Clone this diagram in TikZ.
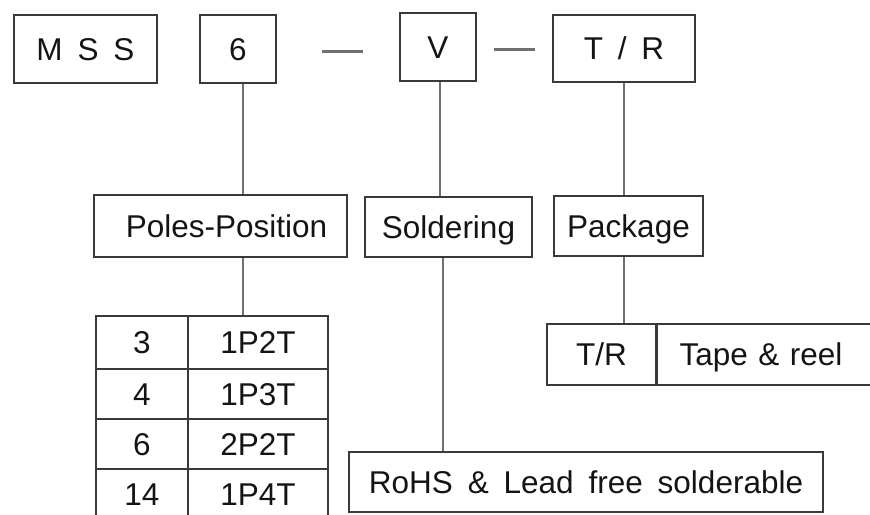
\documentclass[tikz,border=0pt]{standalone}
\usepackage{fontspec}
\setmainfont{Liberation Sans}[WordSpace=1.7]
\definecolor{boxgray}{RGB}{58,58,58}
\definecolor{linkgray}{RGB}{112,112,112}
\definecolor{inkgray}{RGB}{20,20,20}
\usetikzlibrary{positioning}

\begin{document}
\begin{tikzpicture}[x=1pt, y=-1pt,
    codebox/.style={draw=boxgray, line width=1.5pt, text=inkgray, inner sep=0pt,
        text height=22pt, text depth=0pt, font=\fontsize{31.5}{36}\selectfont},
    link/.style={draw=linkgray, line width=2pt},
    sep/.style={draw=linkgray, line width=3pt}]
    \useasboundingbox (0,0) rectangle (870,514);
    \clip (0,0) rectangle (870,514);

    % Part number
    \node[codebox, minimum width=143pt, minimum height=68pt] (mss) at (85.5,49) {M S S};
    \node[codebox, minimum width=76pt, minimum height=68pt] (six) at (238,49) {6};
    \node[codebox, minimum width=76pt, minimum height=68pt] (v) at (438,47) {V};
    \node[codebox, minimum width=142pt, minimum height=67pt] (tr) at (624,48.5) {T / R};

    % Dashes
    \coordinate (d1a) at (322,51);
    \coordinate (d1b) at (363,51);
    \coordinate (d2a) at (494,49);
    \coordinate (d2b) at (535,49);
    \draw[sep] (d1a) -- (d1b);
    \draw[sep] (d2a) -- (d2b);

    % Field names
    \node[codebox, minimum width=253pt, minimum height=62pt] (poles) at (220.5,226) {\hspace{12pt}Poles-Position};
    \node[codebox, minimum width=167pt, minimum height=60pt] (solder) at (448.5,227) {Soldering};
    \node[codebox, minimum width=149pt, minimum height=60pt] (pkg) at (628.5,226) {Package};

    % Poles table
    \foreach \n/\t/\y/\h [count=\i] in {3/1P2T/342.5/53, 4/1P3T/394/50, 6/2P2T/444/50, 14/1P4T/494/50} {
        \node[codebox, minimum width=92pt, minimum height=\h pt] (pn\i) at (142,\y) {\n};
        \node[codebox, minimum width=140pt, minimum height=\h pt] (pt\i) at (258,\y) {\t};
    }

    % Package table
    \node[codebox, minimum width=109pt, minimum height=61pt] (tcode) at (601.5,354.5) {T/R};
    \node[codebox, anchor=west, text width=222pt, align=left, inner xsep=22pt,
        minimum height=61pt] (tdesc) at (tcode.east) {Tape \& reel};

    % Soldering option
    \node[codebox, minimum width=474pt, minimum height=60pt] (rohs) at (586,482) {RoHS \& Lead free solderable};

    % Links
    \draw[link] ([xshift=5pt]six.south) -- ([xshift=5pt]six.south |- poles.north);
    \draw[link] ([xshift=22pt]poles.south) -- ([xshift=22pt]poles.south |- pt1.north);
    \draw[link] ([xshift=2pt]v.south) -- ([xshift=2pt]v.south |- solder.north);
    \draw[link] ([xshift=5pt]v.south |- solder.south) -- ([xshift=5pt]v.south |- rohs.north);
    \draw[link] (tr.south) -- (tr.south |- pkg.north);
    \draw[link] (tr.south |- pkg.south) -- (tr.south |- tcode.north);
\end{tikzpicture}
\end{document}
